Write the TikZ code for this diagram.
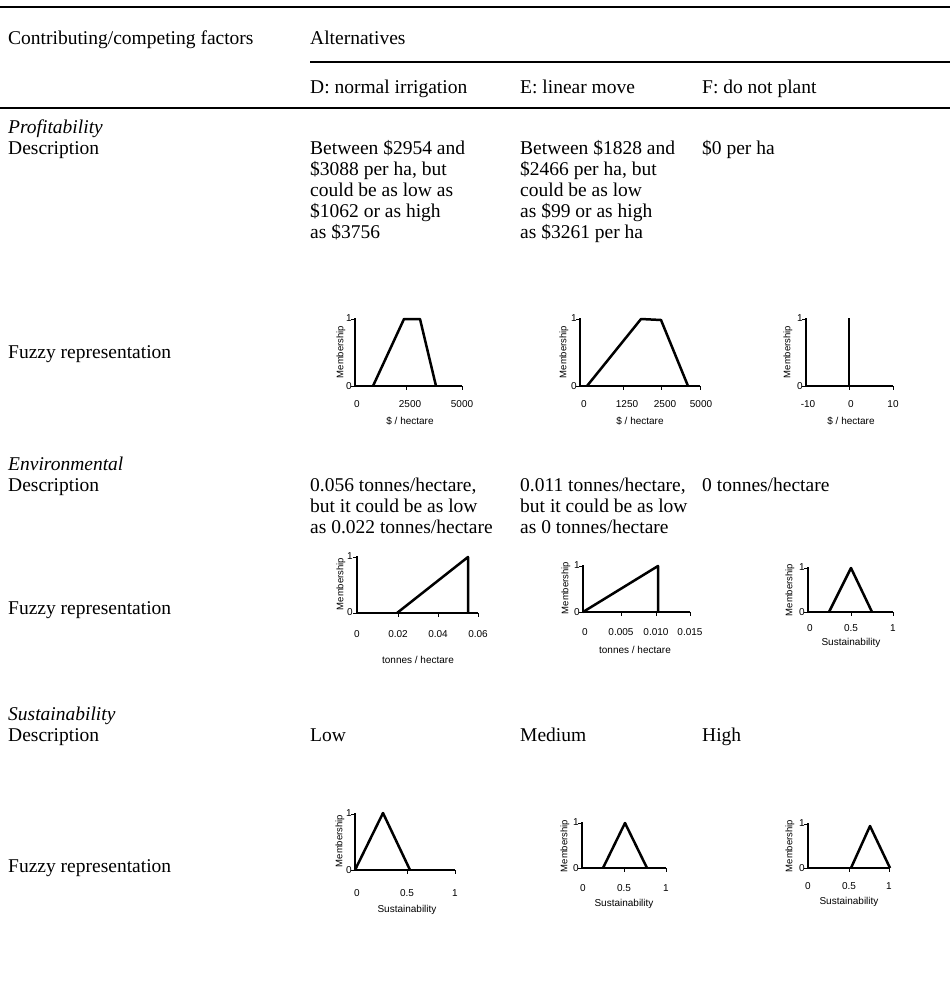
\documentclass[tikz,border=0pt]{standalone}
\usepackage{fontspec}
\setmainfont{Liberation Serif}
\setsansfont{Liberation Sans}
\begin{document}
\begin{tikzpicture}[x=1pt,y=-1pt,
  txt/.style={font=\rmfamily\fontsize{19.5}{21}\selectfont, anchor=base west, inner sep=0},
  itx/.style={txt, font=\rmfamily\itshape\fontsize{19.5}{21}\selectfont},
  rule/.style={line width=1.4pt},
  ax/.style={line width=2.2pt, line join=miter},
  fz/.style={line width=2.5pt, line join=round},
  tk/.style={line width=1pt},
  tl/.style={font=\sffamily\fontsize{10}{10}\selectfont, inner sep=0, anchor=center},
  ml/.style={font=\sffamily\fontsize{9.5}{10}\selectfont, rotate=90, inner sep=0, anchor=center}]
\useasboundingbox (0,0) rectangle (950,1002);
% rules
\coordinate (r1a) at (0,7);   \coordinate (r1b) at (950,7);
\coordinate (r2a) at (310,62); \coordinate (r2b) at (950,62);
\coordinate (r3a) at (0,108); \coordinate (r3b) at (950,108);
\draw[rule] (r1a) -- (r1b);
\draw[rule] (r2a) -- (r2b);
\draw[rule] (r3a) -- (r3b);
% header
\node[txt] (hcf) at (8,44) {Contributing/competing factors};
\node[txt] (halt) at (310,44) {Alternatives};
\node[txt] (hD) at (310,93) {D: normal irrigation};
\node[txt] (hE) at (520,93) {E: linear move};
\node[txt] (hF) at (702,93) {F: do not plant};
% Profitability
\node[itx] (p0) at (8,133) {Profitability};
\node[txt] (p1) at (8,154) {Description};
\node[txt] (pd1) at (310,154) {Between \$2954 and};
\node[txt] (pd2) at (310,175) {\$3088 per ha, but};
\node[txt] (pd3) at (310,196) {could be as low as};
\node[txt] (pd4) at (310,217) {\$1062 or as high};
\node[txt] (pd5) at (310,238) {as \$3756};
\node[txt] (pe1) at (520,154) {Between \$1828 and};
\node[txt] (pe2) at (520,175) {\$2466 per ha, but};
\node[txt] (pe3) at (520,196) {could be as low};
\node[txt] (pe4) at (520,217) {as \$99 or as high};
\node[txt] (pe5) at (520,238) {as \$3261 per ha};
\node[txt] (pf1) at (702,154) {\$0 per ha};
\node[txt] (p2) at (8,358) {Fuzzy representation};
% Environmental
\node[itx] (e0) at (8,470) {Environmental};
\node[txt] (e1) at (8,491) {Description};
\node[txt] (ed1) at (310,491) {0.056 tonnes/hectare,};
\node[txt] (ed2) at (310,512) {but it could be as low};
\node[txt] (ed3) at (310,533) {as 0.022 tonnes/hectare};
\node[txt] (ee1) at (520,491) {0.011 tonnes/hectare,};
\node[txt] (ee2) at (520,512) {but it could be as low};
\node[txt] (ee3) at (520,533) {as 0 tonnes/hectare};
\node[txt] (ef1) at (702,491) {0 tonnes/hectare};
\node[txt] (e2) at (8,614) {Fuzzy representation};
% Sustainability
\node[itx] (s0) at (8,720) {Sustainability};
\node[txt] (s1) at (8,741) {Description};
\node[txt] (sd1) at (310,741) {Low};
\node[txt] (se1) at (520,741) {Medium};
\node[txt] (sf1) at (702,741) {High};
\node[txt] (s2) at (8,872) {Fuzzy representation};

% ===== Row 1 charts =====
% D
\draw[ax] (355,318) -- (355,386) -- (462,386);
\draw[tk] (351,319) -- (355,319) (351,386) -- (355,386) (406,386) -- (406,390) (462,386) -- (462,390);
\node[tl] (c1d1) at (349,318) {1};
\node[tl] (c1d0) at (349,386) {0};
\node[ml] (c1dm) at (341,352) {Membership};
\node[tl] (c1dx0) at (357,404) {0};
\node[tl] (c1dx1) at (410,404) {2500};
\node[tl] (c1dx2) at (462,404) {5000};
\node[tl] (c1dl) at (410,421) {\$ / hectare};
\draw[fz] (373,386) -- (404,319) -- (420,319) -- (436,386);
% E
\draw[ax] (580,318) -- (580,386) -- (700,386);
\draw[tk] (576,319) -- (580,319) (576,386) -- (580,386) (623,386) -- (623,390) (661,386) -- (661,390) (700,386) -- (700,390);
\node[tl] (c1e1) at (574,318) {1};
\node[tl] (c1e0) at (574,386) {0};
\node[ml] (c1em) at (564,352) {Membership};
\node[tl] (c1ex0) at (584,404) {0};
\node[tl] (c1ex1) at (627,404) {1250};
\node[tl] (c1ex2) at (665,404) {2500};
\node[tl] (c1ex3) at (701,404) {5000};
\node[tl] (c1el) at (640,421) {\$ / hectare};
\draw[fz] (587,386) -- (641,319) -- (661,320) -- (688,386);
% F
\draw[ax] (806,318) -- (806,386) -- (893,386);
\draw[tk] (802,319) -- (806,319) (802,386) -- (806,386) (849,386) -- (849,390) (893,386) -- (893,390);
\node[tl] (c1f1) at (800,318) {1};
\node[tl] (c1f0) at (800,386) {0};
\node[ml] (c1fm) at (788,352) {Membership};
\node[tl] (c1fx0) at (808,404) {-10};
\node[tl] (c1fx1) at (851,404) {0};
\node[tl] (c1fx2) at (893,404) {10};
\node[tl] (c1fl) at (851,421) {\$ / hectare};
\draw[fz] (849,386) -- (849,318);

% ===== Row 2 charts =====
% D
\draw[ax] (357,556) -- (357,613) -- (478,613);
\draw[tk] (353,557) -- (357,557) (353,613) -- (357,613) (398,613) -- (398,617) (438,613) -- (438,617) (478,613) -- (478,617);
\node[tl] (c2d1) at (350,556) {1};
\node[tl] (c2d0) at (350,612) {0};
\node[ml] (c2dm) at (341,584) {Membership};
\node[tl] (c2dx0) at (357,634) {0};
\node[tl] (c2dx1) at (398,634) {0.02};
\node[tl] (c2dx2) at (438,634) {0.04};
\node[tl] (c2dx3) at (478,634) {0.06};
\node[tl] (c2dl) at (418,660) {tonnes / hectare};
\draw[fz] (397,613) -- (468,557) -- (468,613);
% E
\draw[ax] (583,565) -- (583,612) -- (690,612);
\draw[tk] (579,566) -- (583,566) (579,612) -- (583,612) (621,612) -- (621,616) (656,612) -- (656,616) (690,612) -- (690,616);
\node[tl] (c2e1) at (577,565) {1};
\node[tl] (c2e0) at (577,612) {0};
\node[ml] (c2em) at (566,588) {Membership};
\node[tl] (c2ex0) at (585,632) {0};
\node[tl] (c2ex1) at (621,632) {0.005};
\node[tl] (c2ex2) at (656,632) {0.010};
\node[tl] (c2ex3) at (690,632) {0.015};
\node[tl] (c2el) at (635,650) {tonnes / hectare};
\draw[fz] (583,612) -- (658,566) -- (658,612);
% F
\draw[ax] (808,567) -- (808,612) -- (893,612);
\draw[tk] (804,568) -- (808,568) (804,612) -- (808,612) (851,612) -- (851,616) (893,612) -- (893,616);
\node[tl] (c2f1) at (802,567) {1};
\node[tl] (c2f0) at (802,612) {0};
\node[ml] (c2fm) at (790,590) {Membership};
\node[tl] (c2fx0) at (810,628) {0};
\node[tl] (c2fx1) at (851,628) {0.5};
\node[tl] (c2fx2) at (893,628) {1};
\node[tl] (c2fl) at (851,643) {Sustainability};
\draw[fz] (829,612) -- (851,568) -- (872,612);

% ===== Row 3 charts =====
% D
\draw[ax] (355,813) -- (355,870) -- (455,870);
\draw[tk] (351,814) -- (355,814) (351,870) -- (355,870) (407,870) -- (407,874) (455,870) -- (455,874);
\node[tl] (c3d1) at (349,813) {1};
\node[tl] (c3d0) at (349,870) {0};
\node[ml] (c3dm) at (340,841) {Membership};
\node[tl] (c3dx0) at (357,893) {0};
\node[tl] (c3dx1) at (407,893) {0.5};
\node[tl] (c3dx2) at (455,893) {1};
\node[tl] (c3dl) at (407,910) {Sustainability};
\draw[fz] (355,870) -- (383,813) -- (410,870);
% E
\draw[ax] (582,822) -- (582,868) -- (666,868);
\draw[tk] (578,823) -- (582,823) (578,868) -- (582,868) (624,868) -- (624,872) (666,868) -- (666,872);
\node[tl] (c3e1) at (576,822) {1};
\node[tl] (c3e0) at (576,868) {0};
\node[ml] (c3em) at (565,846) {Membership};
\node[tl] (c3ex0) at (583,888) {0};
\node[tl] (c3ex1) at (624,888) {0.5};
\node[tl] (c3ex2) at (666,888) {1};
\node[tl] (c3el) at (624,904) {Sustainability};
\draw[fz] (603,868) -- (625,823) -- (647,868);
% F
\draw[ax] (808,823) -- (808,868) -- (889,868);
\draw[tk] (804,824) -- (808,824) (804,868) -- (808,868) (849,868) -- (849,872) (889,868) -- (889,872);
\node[tl] (c3f1) at (802,823) {1};
\node[tl] (c3f0) at (802,868) {0};
\node[ml] (c3fm) at (790,846) {Membership};
\node[tl] (c3fx0) at (808,886) {0};
\node[tl] (c3fx1) at (849,886) {0.5};
\node[tl] (c3fx2) at (889,886) {1};
\node[tl] (c3fl) at (849,902) {Sustainability};
\draw[fz] (851,868) -- (870,826) -- (890,868);
\end{tikzpicture}
\end{document}
